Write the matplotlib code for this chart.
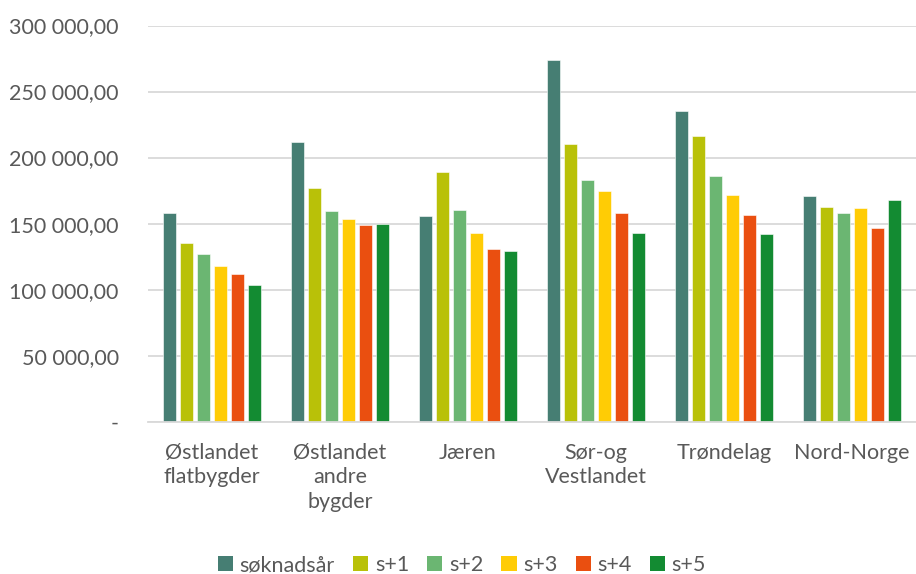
import matplotlib
matplotlib.use("Agg")
import matplotlib.pyplot as plt
import numpy as np
from matplotlib.ticker import FuncFormatter
from matplotlib.patches import Patch

regions = ["Østlandet\nflatbygder", "Østlandet\nandre\nbygder", "Jæren",
           "Sør-og\nVestlandet", "Trøndelag", "Nord-Norge"]
series_names = ["søknadsår", "s+1", "s+2", "s+3", "s+4", "s+5"]
soknadsar = [158100, 211900, 156100, 273800, 235400, 170700]
s1 = [135400, 177300, 189400, 210400, 216200, 162700]
s2 = [127000, 159600, 160600, 183100, 185900, 158100]
s3 = [118200, 153600, 143200, 174500, 171500, 162100]
s4 = [112100, 149000, 130600, 158100, 156800, 146700]
s5 = [103600, 149800, 129300, 142700, 142200, 168000]
yticks = [0, 50000, 100000, 150000, 200000, 250000, 300000]

colors = ["#467E73", "#B9C108", "#6BB672", "#FFCC05", "#EA4F10", "#138B32"]
values = [soknadsar, s1, s2, s3, s4, s5]

plt.rcParams["font.family"] = ["Lato", "DejaVu Sans"]
text_color = "#595959"

fig = plt.figure(figsize=(9.16, 5.74), dpi=100)
ax = fig.add_axes([148 / 916, 1 - 421.7 / 574, 1 - 148 / 916, (421.7 - 25.5) / 574])

x = np.arange(len(regions))
step = 0.133
width = 0.106
for i, (vals, c) in enumerate(zip(values, colors)):
    ax.bar(x + (i - 2.5) * step, vals, width=width, color=c,
           edgecolor="white", linewidth=0.4, zorder=3, label=series_names[i])

ax.set_xlim(-0.5, len(regions) - 0.5)
ax.set_ylim(0, 300000)
ax.set_yticks(yticks)


def fmt(v, pos):
    if v == 0:
        return "-"
    s = f"{int(v):,}".replace(",", " ")
    return s + ",00"


ax.yaxis.set_major_formatter(FuncFormatter(fmt))
ax.set_xticks(x)
ax.set_xticklabels(regions, linespacing=1.3, va="top")
ax.tick_params(axis="both", length=0, colors=text_color, labelsize=15.5)
ax.tick_params(axis="y", pad=21)
ax.tick_params(axis="x", pad=15)
ax.grid(axis="y", color="#D9D9D9", linewidth=1.3, zorder=0)
for side in ["top", "right", "left"]:
    ax.spines[side].set_visible(False)
ax.spines["bottom"].set_color("#D9D9D9")
ax.spines["bottom"].set_linewidth(1.3)
ax.spines["bottom"].set_zorder(4)

handles = [Patch(facecolor=c, edgecolor="none") for c in colors]
leg = fig.legend(handles, series_names, loc="center", ncol=6,
                 bbox_to_anchor=(462 / 916, 1 - 565 / 574), frameon=False,
                 fontsize=15.5, handlelength=0.7, handleheight=0.7,
                 handletextpad=0.3, columnspacing=0.85, labelcolor=text_color)

fig.savefig("out.png", dpi=100)
